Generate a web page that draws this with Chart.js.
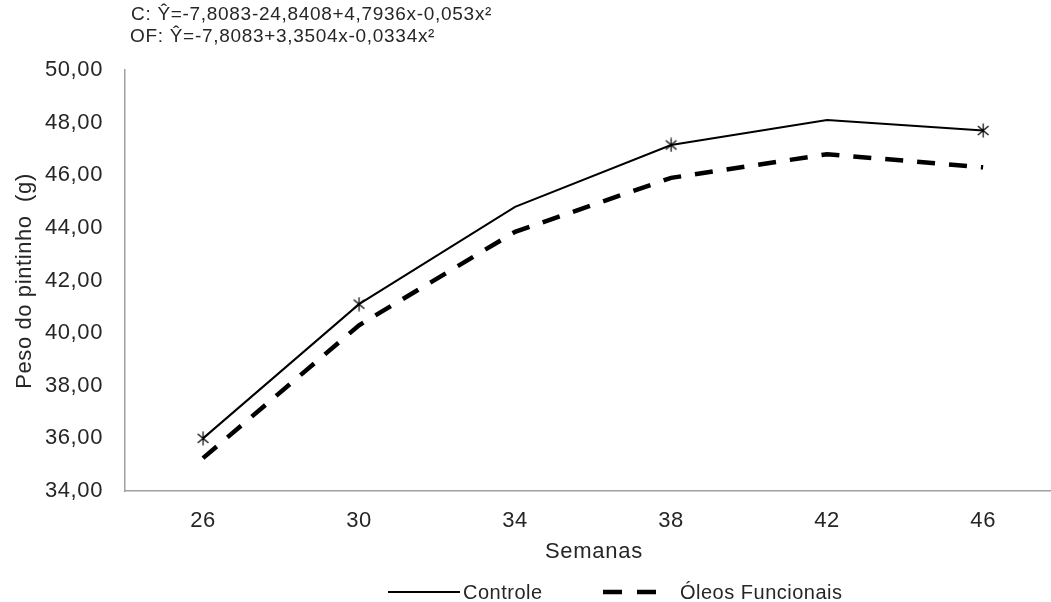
<!DOCTYPE html>
<html>
<head>
<meta charset="utf-8">
<script src="https://cdn.jsdelivr.net/npm/chart.js@4.4.0/dist/chart.umd.min.js"></script>
<style>
html,body{margin:0;padding:0;background:#fff;}
#wrap{width:1051px;height:602px;position:relative;}
</style>
</head>
<body>
<div id="wrap"><canvas id="c" width="1051" height="602"></canvas></div>
<script>
const semanas = [26, 30, 34, 38, 42, 46];
const controle = [36.0, 41.1, 44.8, 47.15, 48.1, 47.7];
const oleos = [35.25, 40.3, 43.85, 45.9, 46.8, 46.3];
const yTicks = [34, 36, 38, 40, 42, 44, 46, 48, 50];
const equacoes = ["C: \u0176=-7,8083-24,8408+4,7936x-0,053x\u00B2", "OF: \u0176=-7,8083+3,3504x-0,0334x\u00B2"];
const nomes = ["Controle", "\u00D3leos Funcionais"];
const tituloY = "Peso do pintinho  (g)";
const tituloX = "Semanas";

const FONT = '"Liberation Sans", Arial, sans-serif';
const TXT = '#262626';

// asterisk marker (vertical bar + X)
function makeAsterisk(size) {
  const c = document.createElement('canvas');
  c.width = size; c.height = size;
  const g = c.getContext('2d');
  const m = size / 2, r = size / 2 - 0.5;
  g.strokeStyle = '#000';
  g.lineWidth = 1.2;
  g.beginPath();
  g.moveTo(m, m - r); g.lineTo(m, m + r);
  const a = 40 * Math.PI / 180;
  const dx = r * Math.cos(a), dy = r * Math.sin(a);
  g.moveTo(m - dx, m - dy); g.lineTo(m + dx, m + dy);
  g.moveTo(m - dx, m + dy); g.lineTo(m + dx, m - dy);
  g.stroke();
  return c;
}
const asterisk = makeAsterisk(15);

const textPlugin = {
  id: 'texts',
  beforeDraw(chart) {
    chart.ctx.letterSpacing = '0.6px';
  },
  afterDraw(chart) {
    const ctx = chart.ctx;
    ctx.save();
    ctx.fillStyle = TXT;
    ctx.textBaseline = 'middle';
    // equations
    ctx.letterSpacing = '0.7px';
    ctx.font = '19px ' + FONT;
    ctx.textAlign = 'left';
    ctx.fillText(equacoes[0], 131, 15);
    ctx.fillText(equacoes[1], 130, 37);
    // x title
    ctx.font = '22px ' + FONT;
    ctx.letterSpacing = '0.7px';
    ctx.textAlign = 'left';
    ctx.fillText(tituloX, 545, 552);
    // y title
    ctx.save();
    ctx.translate(25, 281);
    ctx.rotate(-Math.PI / 2);
    ctx.letterSpacing = '0.6px';
    ctx.textAlign = 'center';
    ctx.fillText(tituloY, 0, 0);
    ctx.restore();
    // legend
    ctx.strokeStyle = '#000';
    ctx.lineWidth = 2;
    ctx.setLineDash([]);
    ctx.beginPath(); ctx.moveTo(388, 592); ctx.lineTo(460, 592); ctx.stroke();
    ctx.lineWidth = 4.5;
    ctx.setLineDash([19, 15]);
    ctx.beginPath(); ctx.moveTo(603, 592); ctx.lineTo(657, 592); ctx.stroke();
    ctx.setLineDash([]);
    ctx.font = '20px ' + FONT;
    ctx.letterSpacing = '0.5px';
    ctx.textAlign = 'left';
    ctx.fillText(nomes[0], 463, 593);
    ctx.fillText(nomes[1], 680, 593);
    ctx.restore();
  }
};

new Chart(document.getElementById('c'), {
  type: 'line',
  data: {
    datasets: [
      {
        label: nomes[0],
        data: semanas.map((s, i) => ({x: s, y: controle[i]})),
        borderColor: '#000',
        borderWidth: 2,
        tension: 0,
        pointStyle: asterisk,
        pointRadius: [7, 7, 0, 7, 0, 7],
        order: 1
      },
      {
        label: nomes[1],
        data: semanas.map((s, i) => ({x: s, y: oleos[i]})),
        borderColor: '#000',
        borderWidth: 4.5,
        borderDash: [18, 14],
        borderCapStyle: 'butt',
        tension: 0,
        pointRadius: 0,
        order: 2
      }
    ]
  },
  options: {
    responsive: false,
    animation: false,
    layout: {autoPadding: false, padding: {top: 70, left: 0, right: 0, bottom: 0}},
    plugins: {legend: {display: false}, tooltip: {enabled: false}},
    scales: {
      x: {
        type: 'linear',
        min: 24,
        max: 47.74,
        afterBuildTicks(scale) { scale.ticks = semanas.map(v => ({value: v})); },
        afterFit(scale) { scale.height = 111; scale.paddingLeft = 0; scale.paddingRight = 0; },
        grid: {display: false, drawTicks: false},
        border: {display: true, color: '#a0a0a0', width: 1.5},
        ticks: {
          color: TXT,
          font: {size: 22, family: FONT},
          padding: 17,
          maxRotation: 0,
          autoSkip: false,
          callback: v => String(v)
        }
      },
      y: {
        min: 34,
        max: 50,
        afterBuildTicks(scale) { scale.ticks = yTicks.map(v => ({value: v})); },
        afterFit(scale) { scale.width = 125; scale.paddingTop = 0; scale.paddingBottom = 0; },
        grid: {display: false, drawTicks: false},
        border: {display: true, color: '#a0a0a0', width: 1.5},
        ticks: {
          color: TXT,
          font: {size: 22, family: FONT},
          padding: 22,
          callback: v => v.toFixed(2).replace('.', ',')
        }
      }
    }
  },
  plugins: [textPlugin]
});
</script>
</body>
</html>
